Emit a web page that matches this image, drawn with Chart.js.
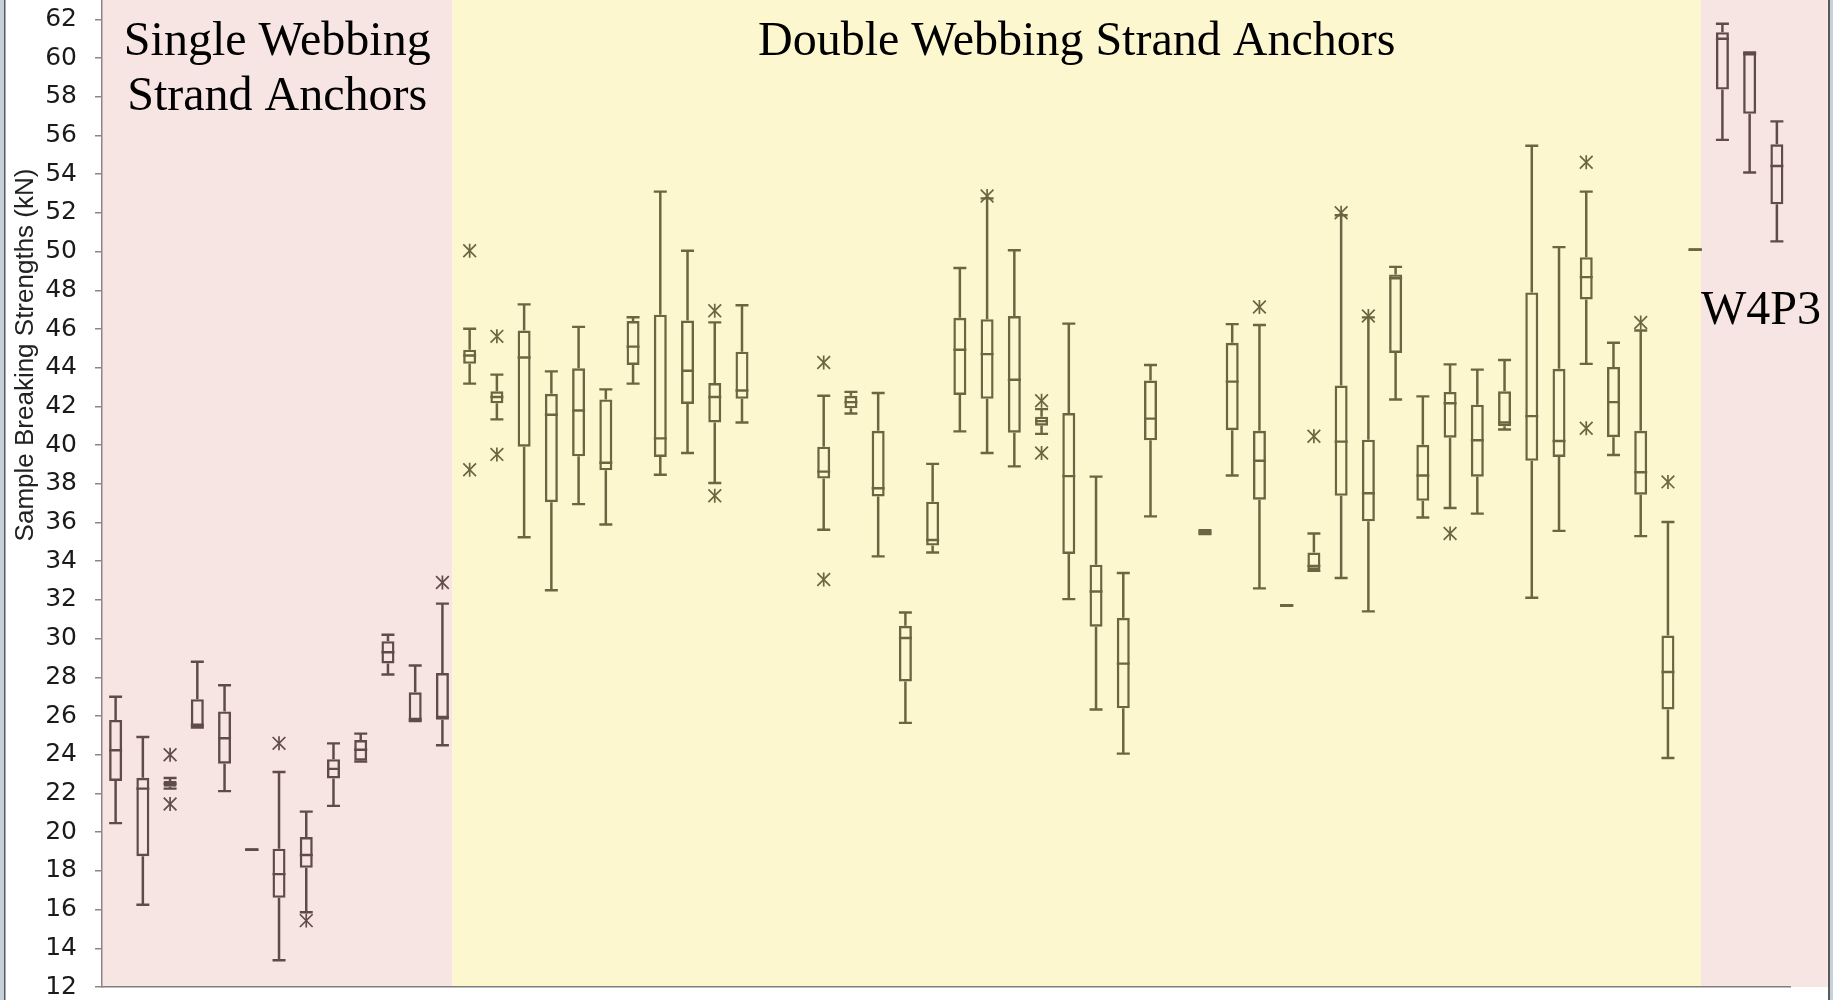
<!DOCTYPE html>
<html>
<head>
<meta charset="utf-8">
<script src="https://cdn.jsdelivr.net/npm/chart.js@4.4.1/dist/chart.umd.min.js"></script>
<style>
html,body{margin:0;padding:0;background:#fff;overflow:hidden}
#wrap{width:1833px;height:1000px}
</style>
</head>
<body>
<div id="wrap"><canvas id="c" width="1833" height="1000"></canvas></div>
<script>
// ---------- DATA ----------
const categories = ['1','2','3','4','5','6','7','8','9','10','11','12','13','14','15','16','17','18','19','20',
  '21','22','23','24','25','26','27','28','29','30','31','32','33','34','35','36','37','38','39','40',
  '41','42','43','44','45','46','47','48','49','50','51','52','53','54','55','56','57','58','59','60','61','62'];

const whiskerLow = [20.47,16.25,22.25,25.41,22.12,19.09,13.38,15.86,21.36,23.65,28.15,25.74,24.49,
  43.18,41.33,35.24,32.5,36.95,35.9,43.18,38.47,39.59,38.04,41.17,null,null,35.63,41.63,34.25,25.65,34.45,
  40.71,39.59,38.9,40.58,32.04,26.34,24.06,36.32,null,35.4,38.43,32.6,31.71,33.5,33.13,31.41,42.36,36.26,
  36.75,36.46,40.81,32.11,35.57,44.2,39.49,35.3,23.83,50.1,55.77,54.09,50.53];

const boxLow = [22.65,18.76,22.35,25.41,23.54,19.09,16.61,18.16,22.78,23.7,28.72,25.74,25.81,
  44.2,42.16,39.92,37.05,39.42,38.7,44.14,39.39,42.13,41.17,42.39,null,null,38.27,41.9,37.35,27.79,34.81,
  42.59,42.39,40.64,41.0,34.38,30.62,26.4,40.25,null,35.4,40.77,37.18,31.71,33.55,37.38,36.06,44.76,37.12,
  40.38,38.37,40.97,39.19,39.39,47.53,40.41,37.44,26.34,50.1,58.37,57.12,52.44];

const medians = [24.23,22.25,22.5,25.55,24.85,19.09,17.83,18.82,23.27,24.26,29.3,25.85,25.95,
  44.63,42.49,44.53,41.57,41.79,39.09,45.09,40.35,43.84,42.49,42.82,null,null,38.63,42.22,37.77,30.03,35.1,
  44.93,44.7,43.38,41.24,38.4,32.44,28.71,41.37,null,35.5,43.28,39.19,31.71,33.75,40.18,37.51,48.62,38.43,
  42.16,40.25,41.17,41.5,40.21,48.68,42.22,38.6,28.28,50.1,61.0,60.2,54.42];

const boxHigh = [25.8,22.81,22.65,26.87,26.24,19.09,19.15,19.75,23.77,24.76,29.87,27.23,28.22,
  44.93,42.78,45.92,42.65,43.97,42.36,46.41,46.74,46.44,43.21,44.83,null,null,39.92,42.55,40.74,30.66,37.08,
  46.58,46.51,46.67,41.47,41.66,33.82,31.08,43.34,null,35.6,45.29,40.74,31.71,34.45,43.08,40.28,48.82,40.02,
  42.75,42.09,42.78,47.89,43.94,49.71,44.04,40.74,30.16,50.1,61.34,60.29,55.54];

const whiskerHigh = [27.0,24.92,22.8,28.81,27.59,19.09,23.11,21.06,24.59,25.09,30.2,28.61,31.81,
  46.01,43.64,47.27,43.81,46.11,42.88,46.61,53.1,50.04,46.34,47.23,null,null,42.55,42.75,42.69,31.35,39.03,
  49.15,52.75,50.07,41.86,46.28,38.37,33.39,44.14,null,35.6,46.25,46.21,31.71,35.43,51.88,46.6,49.21,42.52,
  44.17,43.9,44.4,55.47,50.23,53.1,45.29,45.92,36.03,50.1,61.77,60.29,56.73];

const outliers = [[],[],[24.0,21.46],[],[],[],[24.59],[15.43],[],[],[],[],[32.9],
  [50.04,38.73],[45.62,39.52],[],[],[],[],[],[],[],[46.94,37.38],[],[],[],[44.27,33.06],[],[],[],[],
  [],[52.87],[],[42.29,39.59],[],[],[],[],[],[],[],[47.14],[],[40.46],[52.01],[46.67],[],[],
  [35.43],[],[],[],[],[54.62,40.87],[],[46.34],[38.1],[],[],[],[]];

const groupNames = ['Single Webbing\nStrand Anchors', 'Double Webbing Strand Anchors', 'W4P3'];
const groupFirst = [0, 13, 59];
const groupLast = [12, 58, 61];

const yTickValues = [12,14,16,18,20,22,24,26,28,30,32,34,36,38,40,42,44,46,48,50,52,54,56,58,60,62];
const yTitle = 'Sample Breaking Strengths (kN)';

// ---------- STYLE ----------
const groupBoxColors = ['#5f4c4a', '#6b6541', '#5f4c4a'];
const groupBandColors = ['#f7e5e3', '#fdf7d0', '#f7e5e3'];
const bandEdges = [-0.5, 12.37, 58.21, 62.87];

function groupIndexOf(label) {
  const i = categories.indexOf(label);
  for (let g = 0; g < groupFirst.length; g++) if (i >= groupFirst[g] && i <= groupLast[g]) return g;
  return 1;
}
function colorFor(ctx) {
  const r = ctx.raw;
  return r ? groupBoxColors[groupIndexOf(r.x)] : '#6b6541';
}

function rangePoints(lo, hi) {
  const out = [];
  categories.forEach((c, i) => { if (lo[i] != null && hi[i] != null) out.push({x: c, y: [lo[i], hi[i]]}); });
  return out;
}
function valuePoints(arrs) {
  const out = [];
  categories.forEach((c, i) => arrs.forEach(a => { if (a[i] != null) out.push({x: c, y: a[i]}); }));
  return out;
}
function outlierPoints() {
  const out = [];
  categories.forEach((c, i) => outliers[i].forEach(v => out.push({x: c, y: v})));
  return out;
}

const pointBase = {
  type: 'line', showLine: false, pointBackgroundColor: 'rgba(0,0,0,0)',
  pointBorderColor: colorFor, borderColor: colorFor
};

const datasets = [
  { type: 'bar', label: 'lower whisker', data: rangePoints(whiskerLow, boxLow), grouped: false,
    maxBarThickness: 2.5, backgroundColor: colorFor, borderWidth: 0, inflateAmount: 0 },
  { type: 'bar', label: 'upper whisker', data: rangePoints(boxHigh, whiskerHigh), grouped: false,
    maxBarThickness: 2.5, backgroundColor: colorFor, borderWidth: 0, inflateAmount: 0 },
  { type: 'bar', label: 'box', data: rangePoints(boxLow, boxHigh), grouped: false,
    maxBarThickness: 13, backgroundColor: 'rgba(0,0,0,0)', borderColor: colorFor,
    borderWidth: 2.4, borderSkipped: false, inflateAmount: 0 },
  Object.assign({}, pointBase, { label: 'caps', data: valuePoints([whiskerLow, whiskerHigh]),
    pointStyle: 'line', pointRadius: 6.5, pointHoverRadius: 6.5, pointBorderWidth: 2.4 }),
  Object.assign({}, pointBase, { label: 'median', data: valuePoints([medians]),
    pointStyle: 'line', pointRadius: 6.5, pointHoverRadius: 6.5, pointBorderWidth: 2.4 }),
  Object.assign({}, pointBase, { label: 'outliers', data: outlierPoints(),
    pointStyle: 'crossRot', pointRadius: 9, pointHoverRadius: 9, pointBorderWidth: 1.7 }),
  Object.assign({}, pointBase, { label: 'outliers v', data: outlierPoints(),
    pointStyle: 'line', pointRotation: 90, pointRadius: 7, pointHoverRadius: 7, pointBorderWidth: 1.7 })
];

const decor = {
  id: 'decor',
  beforeDraw(chart) {
    const {ctx, chartArea: a, scales: {x}} = chart;
    ctx.save();
    ctx.fillStyle = '#ffffff';
    ctx.fillRect(0, 0, chart.width, chart.height);
    for (let g = 0; g < groupBandColors.length; g++) {
      const x0 = x.getPixelForValue(bandEdges[g]);
      const x1 = x.getPixelForValue(bandEdges[g + 1]);
      ctx.fillStyle = groupBandColors[g];
      ctx.fillRect(x0, 0, x1 - x0, a.bottom);
    }
    ctx.fillStyle = '#c7d1d9';
    ctx.fillRect(0, 0, 4, chart.height);
    ctx.fillRect(chart.width - 3, 0, 3, chart.height);
    ctx.fillStyle = '#5a5a5a';
    ctx.fillRect(4, 0, 1.5, chart.height);
    ctx.fillRect(chart.width - 5, 0, 2, chart.height);
    ctx.restore();
  },
  afterDraw(chart) {
    const {ctx, scales: {x}} = chart;
    ctx.save();
    ctx.fillStyle = '#000';
    ctx.font = '48px "Liberation Serif", "Times New Roman", serif';
    ctx.textBaseline = 'alphabetic';
    ctx.textAlign = 'center';
    const c0 = (x.getPixelForValue(bandEdges[0]) + x.getPixelForValue(bandEdges[1])) / 2;
    const l0 = groupNames[0].split('\n');
    ctx.fillText(l0[0], c0, 55);
    ctx.fillText(l0[1], c0, 110);
    const c1 = (x.getPixelForValue(bandEdges[1]) + x.getPixelForValue(bandEdges[2])) / 2;
    ctx.fillText(groupNames[1], c1, 55);
    ctx.textAlign = 'left';
    ctx.fillText(groupNames[2], x.getPixelForValue(bandEdges[2]), 324);
    // y axis title
    ctx.translate(26, 355);
    ctx.rotate(-Math.PI / 2);
    ctx.textAlign = 'center';
    ctx.textBaseline = 'middle';
    ctx.fillStyle = '#222';
    ctx.font = '26px "Liberation Sans", Arial, sans-serif';
    ctx.fillText(yTitle, 0, 0);
    ctx.restore();
  }
};

new Chart(document.getElementById('c'), {
  type: 'bar',
  data: { labels: categories, datasets: datasets },
  options: {
    responsive: false,
    animation: false,
    events: [],
    layout: { autoPadding: false, padding: { left: 0, right: 42.5, top: 0, bottom: 13 } },
    plugins: { legend: { display: false }, tooltip: { enabled: false } },
    scales: {
      x: {
        type: 'category', offset: true,
        ticks: { display: false },
        grid: { display: false, drawTicks: false },
        border: { display: true, color: '#7f7f7f', width: 1.5 }
      },
      y: {
        min: 12, max: 63,
        afterBuildTicks: (s) => { s.ticks = yTickValues.map(v => ({ value: v })); },
        afterFit: (s) => { s.width = 102; s.paddingTop = 0; s.paddingBottom = 0; },
        ticks: { color: '#1a1a1a', padding: 18,
          font: { family: '"DejaVu Sans", sans-serif', size: 25, lineHeight: 0.01 } },
        grid: { drawOnChartArea: false, drawTicks: true, tickLength: 7, color: '#8f8585', lineWidth: 1.5 },
        border: { display: true, color: '#8f8585', width: 1.5 }
      }
    }
  },
  plugins: [decor]
});
</script>
</body>
</html>
